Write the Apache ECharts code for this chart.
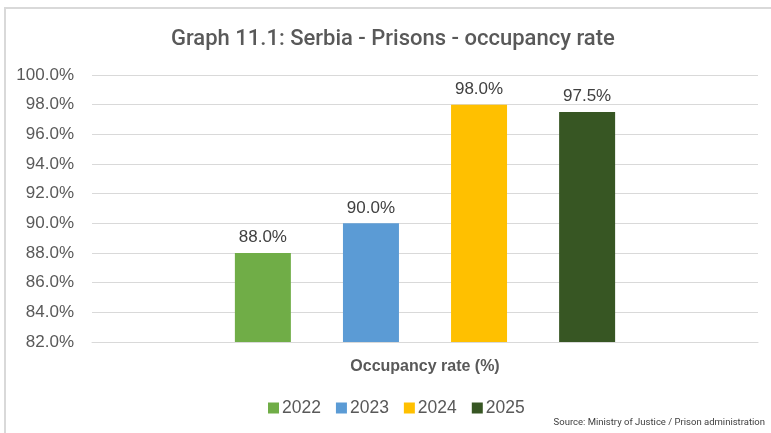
<!DOCTYPE html>
<html>
<head>
<meta charset="utf-8">
<script src="https://cdn.jsdelivr.net/npm/echarts@6/dist/echarts.min.js"></script>
<style>html,body{margin:0;padding:0;background:#fff;}#c{width:771px;height:433px;}</style>
</head>
<body>
<div id="c"></div>
<script>
const categories = ['Occupancy rate (%)'];
const seriesNames = ['2022', '2023', '2024', '2025'];
const seriesValues = [88.0, 90.0, 98.0, 97.5];
const seriesColors = ['#70AD47', '#5B9BD5', '#FFC000', '#375623'];
const yMin = 82, yMax = 100, yInterval = 2;

const chart = echarts.init(document.getElementById('c'), null, {renderer: 'canvas'});
const pct = v => Number(v).toFixed(1) + '%';
chart.setOption({
  animation: false,
  backgroundColor: '#fff',
  title: {
    text: 'Graph 11.1: Serbia - Prisons - occupancy rate',
    left: 166, top: 23,
    textStyle: {fontFamily: 'Roboto', fontSize: 22, fontWeight: 500, color: '#595959'}
  },
  graphic: [
    {type: 'polyline', shape: {points: [[5, 440], [5, 8], [800, 8]]},
     style: {fill: 'none', stroke: '#d9d9d9', lineWidth: 2}, z: -1},
    {type: 'text', right: 6, top: 418,
     style: {text: 'Source: Ministry of Justice / Prison administration', fontFamily: 'Roboto', fontSize: 9.5, fill: '#404040'}}
  ],
  legend: {
    data: seriesNames, bottom: 11, left: 263,
    itemWidth: 11, itemHeight: 11, itemGap: 15, icon: 'rect',
    textStyle: {fontFamily: 'Liberation Sans', fontSize: 17.5, color: '#595959', padding: [0, 0, 0, -2]}
  },
  grid: {left: 92, right: 13, top: 75, bottom: 91},
  xAxis: {
    type: 'category', data: categories,
    axisLine: {lineStyle: {color: '#d9d9d9', width: 1}},
    axisTick: {show: false},
    axisLabel: {margin: 17, fontFamily: 'Liberation Sans', fontSize: 16, fontWeight: 'bold', color: '#595959'}
  },
  yAxis: {
    type: 'value', min: yMin, max: yMax, interval: yInterval,
    axisLine: {show: false}, axisTick: {show: false},
    axisLabel: {margin: 18, fontFamily: 'Liberation Sans', fontSize: 17, color: '#595959', formatter: pct},
    splitLine: {lineStyle: {color: '#d9d9d9', width: 1}}
  },
  series: seriesNames.map((n, i) => ({
    name: n, type: 'bar',
    data: [seriesValues[i]],
    barWidth: 56, barGap: '93%',
    itemStyle: {color: seriesColors[i]},
    label: {show: true, position: 'top', distance: 7, formatter: p => pct(p.value),
            fontFamily: 'Liberation Sans', fontSize: 17, color: '#404040'}
  }))
});
</script>
</body>
</html>
